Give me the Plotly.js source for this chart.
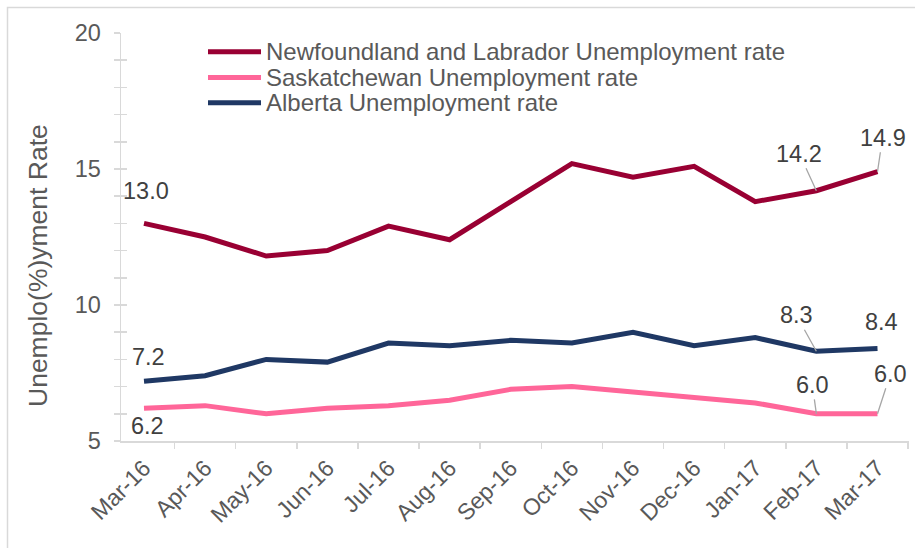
<!DOCTYPE html>
<html>
<head>
<meta charset="utf-8">
<script src="https://cdn.plot.ly/plotly-3.0.1.min.js"></script>
<style>
  html, body { margin: 0; padding: 0; background: #ffffff; }
  #chart { width: 915px; height: 548px; }
</style>
</head>
<body>
<div id="chart"></div>
<script>
// ---- data ----
const months = ["Mar-16","Apr-16","May-16","Jun-16","Jul-16","Aug-16","Sep-16","Oct-16","Nov-16","Dec-16","Jan-17","Feb-17","Mar-17"];
const seriesNames = ["Newfoundland and Labrador Unemployment rate", "Saskatchewan Unemployment rate", "Alberta Unemployment rate"];
const nlRate = [13.0, 12.5, 11.8, 12.0, 12.9, 12.4, 13.8, 15.2, 14.7, 15.1, 13.8, 14.2, 14.9];
const skRate = [6.2, 6.3, 6.0, 6.2, 6.3, 6.5, 6.9, 7.0, 6.8, 6.6, 6.4, 6.0, 6.0];
const abRate = [7.2, 7.4, 8.0, 7.9, 8.6, 8.5, 8.7, 8.6, 9.0, 8.5, 8.8, 8.3, 8.4];
const yTickVals = [5, 10, 15, 20];
const yTitle = "Unemplo(%)yment Rate";

// ---- style ----
const colors = ["#990033", "#ff6699", "#1f3864"];
const values = [nlRate, skRate, abRate];
const FONT = "Liberation Sans, Arial, sans-serif";
const gridGrey = "#d9d9d9";
const textGrey = "#595959";
const labelGrey = "#404040";

// plot area in pixels
const PL = 121, PR = 909, PT = 33, PB = 441;
const px = p => (p - PL) / (PR - PL);
const py = p => (PB - p) / (PB - PT);

const traces = values.map((v, i) => ({
  type: "scatter", mode: "lines", x: months, y: v, name: seriesNames[i],
  line: { color: colors[i], width: 5 }, showlegend: false, hoverinfo: "skip"
}));
// helper trace for the inner half of the crossing y ticks
traces.push({ type: "scatter", mode: "lines", x: [months[0]], y: [null], yaxis: "y2", showlegend: false, hoverinfo: "skip" });

const last = months.length - 1;
const feb = months.length - 2;
const fmt = v => v.toFixed(1);
const LBL = 23.5;

function noLeader(xi, v, xs, ys) {
  return { x: months[xi], y: v, xref: "x", yref: "y", text: fmt(v), showarrow: false,
    xshift: xs, yshift: ys, font: { family: FONT, size: LBL, color: labelGrey } };
}
function leader(xi, v, ax, ay) {
  return { x: months[xi], y: v, xref: "x", yref: "y", text: fmt(v), showarrow: true,
    arrowhead: 0, arrowwidth: 1.3, arrowcolor: "#a6a6a6", ax: ax, ay: ay, standoff: 0,
    font: { family: FONT, size: LBL, color: labelGrey } };
}

const annotations = [
  noLeader(0, nlRate[0], 2, 32),
  leader(feb, nlRate[feb], -17, -37),
  leader(last, nlRate[last], 5, -34),
  noLeader(0, abRate[0], 4, 24),
  leader(feb, abRate[feb], -20, -36),
  noLeader(last, abRate[last], 4, 27),
  noLeader(0, skRate[0], 3, -18),
  leader(feb, skRate[feb], -4, -29),
  leader(last, skRate[last], 13, -40),
  { x: px(38), y: py(266), xref: "paper", yref: "paper", text: yTitle, textangle: -90,
    showarrow: false, xanchor: "center", yanchor: "middle",
    font: { family: FONT, size: 26.5, color: textGrey } }
];

// legend (drawn as shapes + text)
const legendY = [51.7, 77.5, 102.7];
const shapes = [];
seriesNames.forEach((n, i) => {
  shapes.push({ type: "line", xref: "paper", yref: "paper", x0: px(208), x1: px(261), y0: py(legendY[i]), y1: py(legendY[i]),
    line: { color: colors[i], width: 5 } });
  annotations.push({ x: px(264), y: py(legendY[i]), xref: "paper", yref: "paper", text: n, showarrow: false,
    xanchor: "left", yanchor: "middle", font: { family: FONT, size: 24, color: textGrey } });
});
// chart border
shapes.push({ type: "rect", xref: "paper", yref: "paper", x0: px(7.5), x1: px(925), y0: py(7.5), y1: py(560),
  line: { color: gridGrey, width: 1.5 }, layer: "below" });

const layout = {
  width: 915, height: 548,
  margin: { l: PL, r: 915 - PR, t: PT, b: 548 - PB, pad: 0 },
  paper_bgcolor: "#ffffff", plot_bgcolor: "#ffffff",
  font: { family: FONT, color: textGrey },
  showlegend: false,
  xaxis: {
    type: "category", tickson: "boundaries", ticks: "outside", ticklen: 6, tickwidth: 1.5, tickcolor: gridGrey,
    showline: true, linecolor: gridGrey, linewidth: 1.5, showgrid: false, zeroline: false,
    tickangle: -45, ticklabelstandoff: 3, tickfont: { family: FONT, size: 23, color: textGrey }
  },
  yaxis: {
    range: [5, 20], tickvals: yTickVals, ticks: "outside", ticklen: 6, tickwidth: 1.5, tickcolor: gridGrey,
    minor: { dtick: 1, ticks: "outside", ticklen: 6, tickwidth: 1.5, tickcolor: gridGrey, showgrid: false },
    showline: true, linecolor: gridGrey, linewidth: 1.5, showgrid: false, zeroline: false,
    ticklabelstandoff: 8, tickfont: { family: FONT, size: 23.5, color: textGrey }
  },
  yaxis2: {
    range: [5, 20], overlaying: "y", side: "left", dtick: 1, tick0: 0, ticks: "inside", ticklen: 6, tickwidth: 1.5,
    tickcolor: gridGrey, showline: false, showgrid: false, zeroline: false, showticklabels: false
  },
  annotations: annotations,
  shapes: shapes
};

Plotly.newPlot("chart", traces, layout, { displayModeBar: false, staticPlot: true });
</script>
</body>
</html>
